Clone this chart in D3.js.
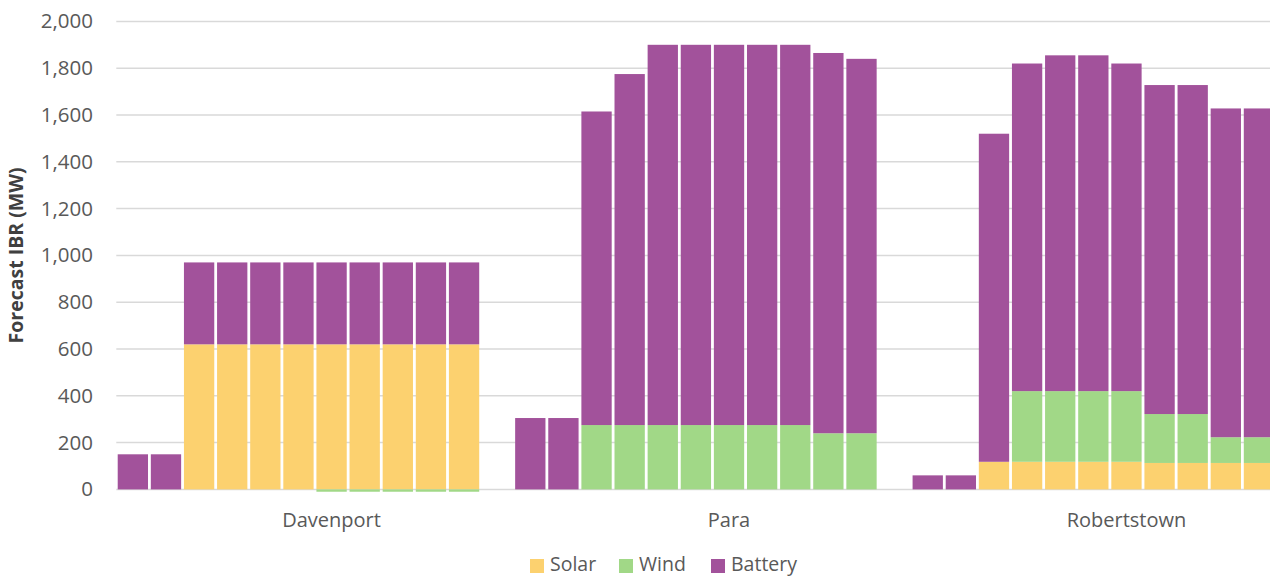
<!DOCTYPE html>
<html>
<head>
<meta charset="utf-8">
<script src="https://cdn.jsdelivr.net/npm/d3@7"></script>
<style>
  html, body { margin: 0; padding: 0; background: #fff; }
  svg { display: block; font-family: "Open Sans", sans-serif; }
</style>
</head>
<body>
<svg id="chart" width="1270" height="576"></svg>
<script>
// Forecast inverter-based resources (MW) by connection point, 11 periods each
const sites = ["Davenport", "Para", "Robertstown"];
const seriesNames = ["Solar", "Wind", "Battery"];
const seriesColors = ["#FCD16F", "#A1D887", "#A2529B"];

const davenportSolar   = [0, 0, 620, 620, 620, 620, 620, 620, 620, 620, 620];
const davenportWind    = [0, 0, 0, 0, 0, 0, -10, -10, -10, -10, -10];
const davenportBattery = [150, 150, 350, 350, 350, 350, 350, 350, 350, 350, 350];

const paraSolar   = [0, 0, 0, 0, 0, 0, 0, 0, 0, 0, 0];
const paraWind    = [0, 0, 275, 275, 275, 275, 275, 275, 275, 240, 240];
const paraBattery = [305, 305, 1340, 1500, 1625, 1625, 1625, 1625, 1625, 1625, 1600];

const robertstownSolar   = [0, 0, 118, 118, 118, 118, 118, 113, 113, 113, 113];
const robertstownWind    = [0, 0, 0, 302, 302, 302, 302, 209, 209, 110, 110];
const robertstownBattery = [60, 60, 1402, 1400, 1435, 1435, 1400, 1406, 1406, 1405, 1405];

const yTicks = [0, 200, 400, 600, 800, 1000, 1200, 1400, 1600, 1800, 2000];
const yTitle = "Forecast IBR (MW)";

// Build one row per bar; a blank slot separates the sites
const siteSeries = {
  "Davenport":   [davenportSolar, davenportWind, davenportBattery],
  "Para":        [paraSolar, paraWind, paraBattery],
  "Robertstown": [robertstownSolar, robertstownWind, robertstownBattery]
};
const rows = [];
const slots = [];
const groupStart = {};
sites.forEach((site, si) => {
  const [s, w, b] = siteSeries[site];
  groupStart[site] = slots.length;
  s.forEach((_, i) => {
    const key = site + "|" + (i + 1);
    slots.push(key);
    rows.push({ key, site, Solar: s[i], Wind: w[i], Battery: b[i] });
  });
  if (si < sites.length - 1) slots.push("gap|" + si);
});

const svg = d3.select("#chart");
const margin = { left: 116.3, top: 21.4, bottom: 489.4 };
const step = 33.12;
const inner = 0.085;

const x = d3.scaleBand()
  .domain(slots)
  .range([margin.left, margin.left + slots.length * step])
  .paddingInner(inner)
  .paddingOuter(inner / 2);

const y = d3.scaleLinear().domain([0, 2000]).range([margin.bottom, margin.top]);

// Gridlines
const grid = svg.append("g").attr("class", "grid");
grid.selectAll("line")
  .data(yTicks)
  .join("line")
  .attr("x1", margin.left)
  .attr("x2", 1270)
  .attr("y1", d => y(d))
  .attr("y2", d => y(d))
  .attr("stroke", "#D9D9D9")
  .attr("stroke-width", 1.5);

// Y axis labels
const yAxis = d3.axisLeft(y)
  .tickValues(yTicks)
  .tickFormat(d3.format(","))
  .tickSize(0)
  .tickPadding(0);
const yg = svg.append("g")
  .attr("transform", "translate(93,0)")
  .call(yAxis);
yg.select(".domain").remove();
yg.selectAll("text")
  .attr("fill", "#595959")
  .style("font-size", "20.5px")
  .style("font-family", "'Open Sans', sans-serif");

// Axis title
svg.append("text")
  .attr("transform", `translate(23,${(margin.top + margin.bottom) / 2}) rotate(-90)`)
  .attr("text-anchor", "middle")
  .attr("fill", "#404040")
  .style("font-size", "19.5px")
  .style("font-weight", "bold")
  .text(yTitle);

// Stacked bars (negative values stack below zero)
const stack = d3.stack()
  .keys(seriesNames)
  .offset(d3.stackOffsetDiverging);
const layers = stack(rows);

const bars = svg.append("g").attr("class", "bars");
layers.forEach((layer, li) => {
  bars.append("g")
    .attr("fill", seriesColors[li])
    .selectAll("rect")
    .data(layer.filter(d => d[1] !== d[0]))
    .join("rect")
    .attr("x", d => x(d.data.key))
    .attr("width", x.bandwidth())
    .attr("y", d => y(Math.max(d[0], d[1])))
    .attr("height", d => Math.abs(y(d[0]) - y(d[1])));
});

// Site labels under each group
svg.append("g")
  .selectAll("text")
  .data(sites)
  .join("text")
  .attr("x", d => x.range()[0] + (groupStart[d] + 6.5) * x.step())
  .attr("y", 527)
  .attr("text-anchor", "middle")
  .attr("fill", "#595959")
  .style("font-size", "20px")
  .text(d => d);

// Legend
const legendItems = [
  { name: seriesNames[0], color: seriesColors[0], x: 530 },
  { name: seriesNames[1], color: seriesColors[1], x: 619 },
  { name: seriesNames[2], color: seriesColors[2], x: 711 }
];
const lg = svg.append("g").attr("class", "legend");
const li = lg.selectAll("g").data(legendItems).join("g")
  .attr("transform", d => `translate(${d.x},559)`);
li.append("rect").attr("width", 14).attr("height", 14).attr("fill", d => d.color);
li.append("text")
  .attr("x", 20)
  .attr("y", 12)
  .attr("fill", "#595959")
  .style("font-size", "19.5px")
  .text(d => d.name);
</script>
</body>
</html>
